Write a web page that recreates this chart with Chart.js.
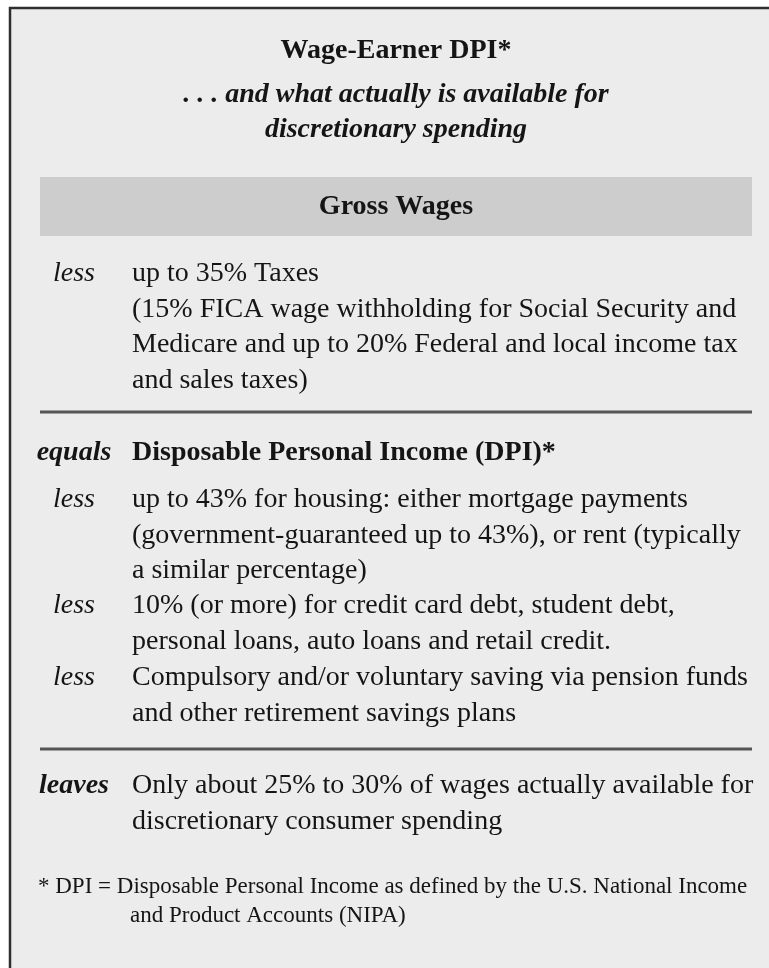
<!DOCTYPE html>
<html><head><meta charset="utf-8">
<script src="https://cdn.jsdelivr.net/npm/chart.js@4/dist/chart.umd.min.js"></script>
<style>html,body{margin:0;padding:0;background:#fff}#wrap{width:769px;height:968px;position:relative}</style>
</head><body><div id="wrap"><canvas id="c"></canvas></div>
<script>
// ---- content ----
const titleText = "Wage-Earner DPI*";
const subtitleLines = [". . . and what actually is available for", "discretionary spending"];
const headerText = "Gross Wages";
const rowLabels = ["less", "equals", "less", "less", "less", "leaves"];
const rowTexts = [
  ["up to 35% Taxes", "(15% FICA wage withholding for Social Security and", "Medicare and up to 20% Federal and local income tax", "and sales taxes)"],
  ["Disposable Personal Income (DPI)*"],
  ["up to 43% for housing: either mortgage payments", "(government-guaranteed up to 43%), or rent (typically", "a similar percentage)"],
  ["10% (or more) for credit card debt, student debt,", "personal loans, auto loans and retail credit."],
  ["Compulsory and/or voluntary saving via pension funds", "and other retirement savings plans"],
  ["Only about 25% to 30% of wages actually available for", "discretionary consumer spending"]
];
const footnoteLines = ["* DPI = Disposable Personal Income as defined by the U.S. National Income", "and Product Accounts (NIPA)"];

// ---- layout (scale units) ----
const L = {
  W: 769, H: 968, cx: 396,
  titleY: 58, subY: [102, 137],
  bar: {x0: 40, x1: 752, y0: 177, y1: 236}, headerY: 214,
  rowY: [281, 460, 507, 613, 685, 793], step: 35.5,
  labelCx: 74, textX: 132,
  seps: [412, 749], sepX: [40, 752],
  footY: [893, 922], footX: [38, 130]
};
const SERIF = '"Liberation Serif", "Times New Roman", serif';
const labelFont = {less: 'italic 28px ' + SERIF, equals: 'italic bold 28px ' + SERIF, leaves: 'italic bold 28px ' + SERIF};

const figurePlugin = {
  id: 'figure',
  beforeDraw(chart) {
    const {ctx, scales: {x, y}} = chart;
    const px = v => x.getPixelForValue(v), py = v => y.getPixelForValue(v);
    ctx.save();
    ctx.fillStyle = '#ffffff';
    ctx.fillRect(0, 0, chart.width, chart.height);
    ctx.fillStyle = '#ececec';
    ctx.fillRect(px(10), py(8), px(L.W) - px(10), py(L.H) - py(8));
    // border (top + left)
    ctx.strokeStyle = '#2e2e2e';
    ctx.lineWidth = 2.5;
    ctx.beginPath();
    ctx.moveTo(px(10), py(L.H)); ctx.lineTo(px(10), py(8)); ctx.lineTo(px(L.W), py(8));
    ctx.stroke();
    // header bar
    ctx.fillStyle = '#cdcdcd';
    ctx.fillRect(px(L.bar.x0), py(L.bar.y0), px(L.bar.x1) - px(L.bar.x0), py(L.bar.y1) - py(L.bar.y0));
    // separators
    ctx.strokeStyle = '#555555';
    ctx.lineWidth = 3;
    L.seps.forEach(s => {
      ctx.beginPath(); ctx.moveTo(px(L.sepX[0]), py(s)); ctx.lineTo(px(L.sepX[1]), py(s)); ctx.stroke();
    });
    ctx.restore();
  },
  afterDraw(chart) {
    const {ctx, scales: {x, y}} = chart;
    const px = v => x.getPixelForValue(v), py = v => y.getPixelForValue(v);
    ctx.save();
    ctx.fillStyle = '#151515';
    ctx.textBaseline = 'alphabetic';
    // title
    ctx.textAlign = 'center';
    ctx.font = 'bold 28px ' + SERIF;
    ctx.fillText(titleText, px(L.cx), py(L.titleY));
    ctx.font = 'italic bold 28px ' + SERIF;
    subtitleLines.forEach((t, i) => ctx.fillText(t, px(L.cx), py(L.subY[i])));
    ctx.font = 'bold 28px ' + SERIF;
    ctx.fillText(headerText, px(L.cx), py(L.headerY));
    // rows
    rowLabels.forEach((lab, r) => {
      ctx.textAlign = 'center';
      ctx.font = labelFont[lab];
      ctx.fillText(lab, px(L.labelCx), py(L.rowY[r]));
      ctx.textAlign = 'left';
      ctx.font = (lab === 'equals' ? 'bold ' : '') + '28px ' + SERIF;
      rowTexts[r].forEach((t, i) => ctx.fillText(t, px(L.textX), py(L.rowY[r] + i * L.step)));
    });
    // footnote
    ctx.textAlign = 'left';
    ctx.font = '23px ' + SERIF;
    footnoteLines.forEach((t, i) => ctx.fillText(t, px(L.footX[i]), py(L.footY[i])));
    ctx.restore();
  }
};

new Chart(document.getElementById('c'), {
  type: 'scatter',
  data: {datasets: [{data: [], pointRadius: 0}]},
  options: {
    responsive: true, maintainAspectRatio: false, animation: false,
    layout: {padding: 0},
    plugins: {legend: {display: false}, tooltip: {enabled: false}, title: {display: false}},
    scales: {
      x: {type: 'linear', min: 0, max: L.W, display: false},
      y: {type: 'linear', min: 0, max: L.H, reverse: true, display: false}
    }
  },
  plugins: [figurePlugin]
});
</script></body></html>
